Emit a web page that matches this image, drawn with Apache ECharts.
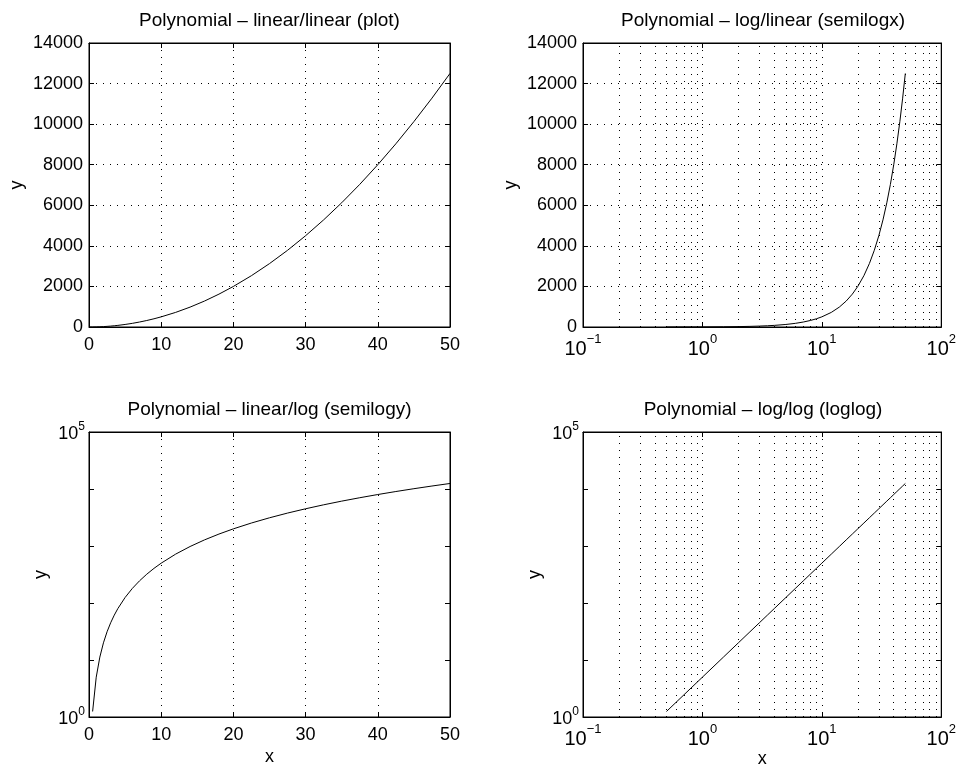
<!DOCTYPE html>
<html><head><meta charset="utf-8">
<script src="https://cdn.jsdelivr.net/npm/echarts@6/dist/echarts.min.js"></script>
<style>html,body{margin:0;padding:0;background:#fff}#c{width:959px;height:769px}</style>
</head><body><div id="c"></div>
<script>
// Data (y = polynomial in x)
const xVals = [0, 0.5, 1, 1.5, 2, 2.5, 3, 3.5, 4, 5, 6, 7, 8, 9, 10, 12, 14, 16, 18, 20, 22.5, 25, 27.5, 30, 32.5, 35, 37.5, 40, 42.5, 45, 47.5, 50];
const yVals = [0, 1.25, 5, 11.25, 20, 31.25, 45, 61.25, 80, 125, 180, 245, 320, 405, 500, 720, 980, 1280, 1620, 2000, 2531, 3125, 3781, 4500, 5281, 6125, 7031, 8000, 9031, 10125, 11281, 12500];
const titles = ['Polynomial \u2013 linear/linear (plot)', 'Polynomial \u2013 log/linear (semilogx)', 'Polynomial \u2013 linear/log (semilogy)', 'Polynomial \u2013 log/log (loglog)'];
const linXTicks = [0, 10, 20, 30, 40, 50];
const linYTicks = [0, 2000, 4000, 6000, 8000, 10000, 12000, 14000];
const logXRange = [0.1, 100];
const logYRange = [1, 100000];
const logYLabelled = [0, 5];
const minorGridX = [0.2, 0.3, 0.4, 0.5, 0.6, 0.7, 0.8, 0.9, 2, 3, 4, 5, 6, 7, 8, 9, 20, 30, 40, 50, 60, 70, 80, 90];

const FONT = '"Liberation Sans", Arial, Helvetica, sans-serif';
const gridLine = { show: true, lineStyle: { color: '#000', width: 1, type: [1, 6] } };
const axLine = { show: true, onZero: false, lineStyle: { color: '#000', width: 1 } };
const tick = { show: true, inside: true, length: 5, lineStyle: { color: '#000', width: 1 } };
const lblBase = { color: '#000', fontSize: 18, fontFamily: FONT };

const gridRects = [
  { left: 89, top: 43, width: 361, height: 284 },
  { left: 583, top: 43, width: 360, height: 284 },
  { left: 89, top: 432, width: 361, height: 285 },
  { left: 583, top: 432, width: 360, height: 285 }
];
const isLogX = [false, true, false, true];
const isLogY = [false, false, true, true];
const yNameGap = [63, 63, 39, 39];

function expLabel(v) {
  const e = Math.round(Math.log10(v));
  return '{b|10}{s|' + (e < 0 ? '\u2212' + (-e) : e) + '}';
}
const richX = {
  b: { fontSize: 20, fontFamily: FONT, color: '#000', lineHeight: 26, verticalAlign: 'bottom' },
  s: { fontSize: 13, fontFamily: FONT, color: '#000', lineHeight: 26, verticalAlign: 'top' }
};
const richY = {
  b: { fontSize: 18, fontFamily: FONT, color: '#000', lineHeight: 22, verticalAlign: 'bottom' },
  s: { fontSize: 12, fontFamily: FONT, color: '#000', lineHeight: 22, verticalAlign: 'top' }
};

const xAxes = [], yAxes = [];
for (let g = 0; g < 4; g++) {
  const xBase = isLogX[g]
    ? { type: 'log', logBase: 10, min: logXRange[0], max: logXRange[1] }
    : { type: 'value', min: linXTicks[0], max: linXTicks[linXTicks.length - 1], interval: linXTicks[1] - linXTicks[0] };
  const yBase = isLogY[g]
    ? { type: 'log', logBase: 10, min: logYRange[0], max: logYRange[1] }
    : { type: 'value', min: linYTicks[0], max: linYTicks[linYTicks.length - 1], interval: linYTicks[1] - linYTicks[0] };
  xAxes.push(Object.assign({}, xBase, {
    gridIndex: g, position: 'bottom', axisLine: axLine, axisTick: tick,
    splitLine: gridLine,
    axisLabel: isLogX[g]
      ? Object.assign({}, lblBase, { margin: 6, formatter: expLabel, rich: richX, showMinLabel: true, showMaxLabel: true })
      : Object.assign({}, lblBase, { margin: 9, showMinLabel: true, showMaxLabel: true, formatter: v => String(v) }),
    name: g >= 2 ? 'x' : '', nameLocation: 'middle', nameGap: 31,
    nameTextStyle: { color: '#000', fontSize: 18, fontFamily: FONT }
  }));
  yAxes.push(Object.assign({}, yBase, {
    gridIndex: g, position: 'left', axisLine: axLine, axisTick: tick,
    splitLine: isLogY[g] ? { show: false } : gridLine,
    axisLabel: isLogY[g]
      ? Object.assign({}, lblBase, { margin: 4, rich: richY, showMinLabel: true, showMaxLabel: true,
          formatter: v => logYLabelled.indexOf(Math.round(Math.log10(v))) >= 0 ? expLabel(v) : '' })
      : Object.assign({}, lblBase, { margin: 6, showMinLabel: true, showMaxLabel: true, formatter: v => String(v) }),
    name: 'y', nameLocation: 'middle', nameRotate: 90,
    nameGap: yNameGap[g],
    nameTextStyle: { color: '#000', fontSize: 18, fontFamily: FONT }
  }));
}
// mirrored ticks on top / right (box on)
for (let g = 0; g < 4; g++) {
  const xb = xAxes[g], yb = yAxes[g];
  xAxes.push({ type: xb.type, logBase: xb.logBase, min: xb.min, max: xb.max, interval: xb.interval,
    gridIndex: g, position: 'top', axisLine: axLine, axisTick: tick, axisLabel: { show: false }, splitLine: { show: false } });
  yAxes.push({ type: yb.type, logBase: yb.logBase, min: yb.min, max: yb.max, interval: yb.interval,
    gridIndex: g, position: 'right', axisLine: axLine, axisTick: tick, axisLabel: { show: false }, splitLine: { show: false } });
}

const series = [];
for (let g = 0; g < 4; g++) {
  const pts = [];
  for (let i = 0; i < xVals.length; i++) {
    if (isLogX[g] && !(xVals[i] > 0)) continue;
    if (isLogY[g] && !(yVals[i] > 0)) continue;
    pts.push([xVals[i], yVals[i]]);
  }
  const s = {
    type: 'line', xAxisIndex: g, yAxisIndex: g, data: pts, showSymbol: false, symbol: 'none',
    lineStyle: { color: '#000', width: 1 }, silent: true, z: 5
  };
  if (isLogX[g]) {
    s.markLine = {
      silent: true, symbol: ['none', 'none'], label: { show: false },
      lineStyle: { color: '#000', width: 1, type: [1, 6] },
      data: minorGridX.map(v => ({ xAxis: v })), z: 1
    };
  }
  series.push(s);
}

const title = titles.map((t, g) => ({
  text: t, left: gridRects[g].left + gridRects[g].width / 2, top: gridRects[g].top - 32,
  textAlign: 'center', padding: 0,
  textStyle: { color: '#000', fontSize: 19, fontWeight: 'normal', fontFamily: FONT }
}));

const chart = echarts.init(document.getElementById('c'), null, { renderer: 'canvas' });
chart.setOption({
  backgroundColor: '#fff',
  animation: false,
  title: title,
  grid: gridRects.map(r => Object.assign({ show: true, borderColor: '#000', borderWidth: 1, backgroundColor: 'transparent', containLabel: false }, r)),
  xAxis: xAxes,
  yAxis: yAxes,
  series: series
});
</script>
</body></html>
